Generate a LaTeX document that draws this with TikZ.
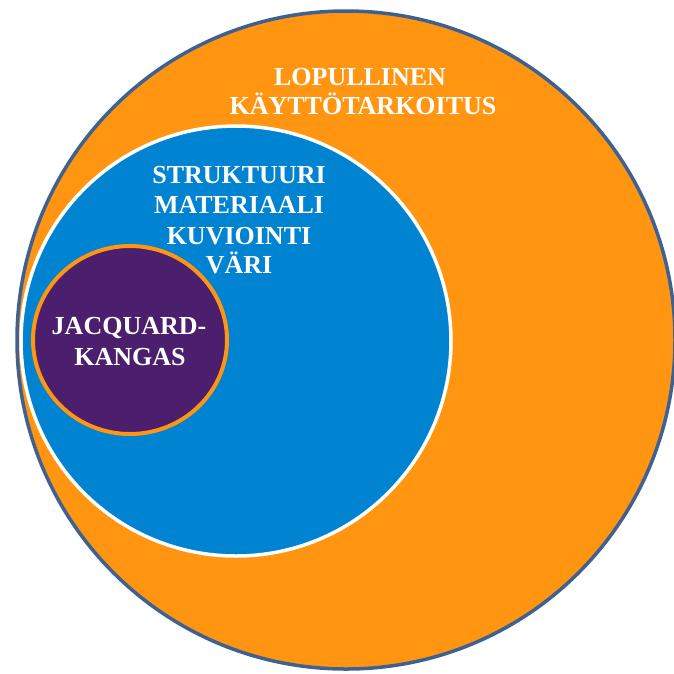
\documentclass[tikz,border=0pt]{standalone}
\usepackage{fontspec}
\setmainfont{Liberation Serif}
\definecolor{outerorange}{HTML}{FF9510}
\definecolor{outerborder}{HTML}{3E6191}
\definecolor{midblue}{HTML}{0083D1}
\definecolor{innerpurple}{HTML}{4B1F6D}
\tikzset{
  lbl/.style={text=white, font=\fontsize{26}{29}\selectfont\bfseries, anchor=base, inner sep=0pt},
}
\begin{document}
\begin{tikzpicture}[x=1pt,y=-1pt]
\useasboundingbox (0,0) rectangle (674,673);
\clip (0,0) rectangle (674,673);
\draw[fill=outerorange, draw=outerborder, line width=3.5pt] (346,340) circle[radius=329];
\draw[fill=midblue, draw=white, line width=3.5pt] (236,341) circle[radius=215];
\draw[fill=innerpurple, draw=outerorange, line width=4pt] (130,340) ellipse[x radius=97, y radius=94];
\node[lbl] (l1) at (360,85) {LOPULLINEN};
\node[lbl] (l2) at (363,114) {KÄYTTÖTARKOITUS};
\node[lbl] (m1) at (239,183) {STRUKTUURI};
\node[lbl] (m2) at (239,213) {MATERIAALI};
\node[lbl] (m3) at (239,244) {KUVIOINTI};
\node[lbl] (m4) at (239,273) {VÄRI};
\node[lbl] (i1) at (129,334) {JACQUARD-};
\node[lbl] (i2) at (130,365) {KANGAS};
\end{tikzpicture}
\end{document}
